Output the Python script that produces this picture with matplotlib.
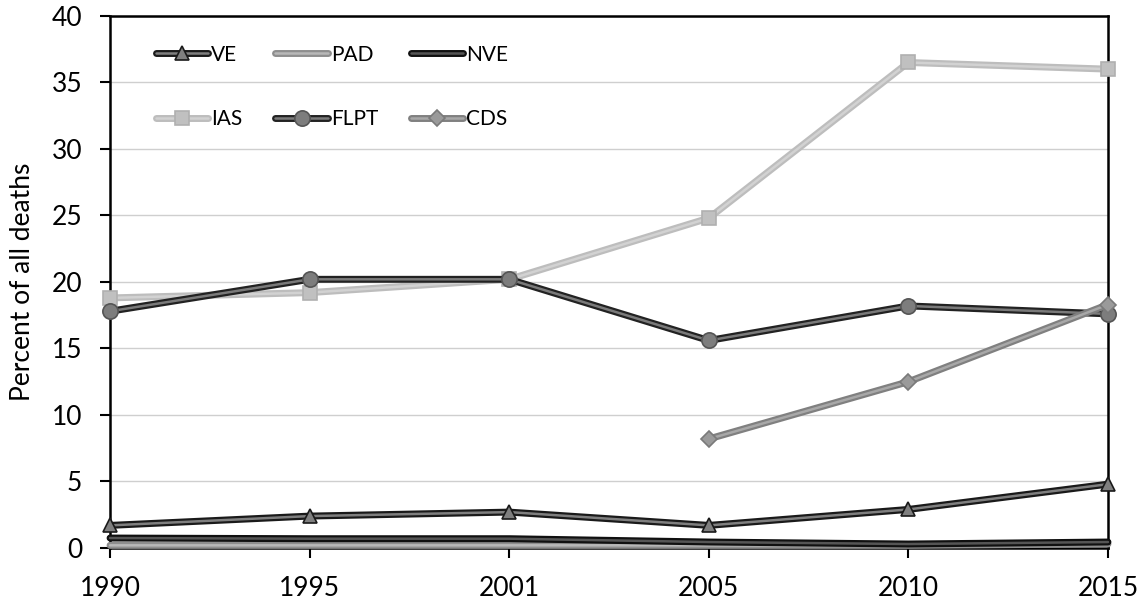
import numpy as np
import matplotlib
matplotlib.use("Agg")
import matplotlib.pyplot as plt
import matplotlib.patheffects as pe
from matplotlib.legend_handler import HandlerTuple

plt.rcParams['font.family'] = ['Lato', 'DejaVu Sans']

years = ["1990", "1995", "2001", "2005", "2010", "2015"]
VE = [1.7, 2.4, 2.7, 1.7, 2.9, 4.8]
PAD = [0.2, 0.2, 0.2, 0.2, 0.2, 0.3]
NVE = [0.75, 0.7, 0.7, 0.45, 0.3, 0.45]
IAS = [18.8, 19.2, 20.2, 24.8, 36.5, 36.0]
FLPT = [17.8, 20.2, 20.2, 15.6, 18.2, 17.6]
CDS = [np.nan, np.nan, np.nan, 8.2, 12.5, 18.3]

series = [
    ("VE", VE, "#1a1a1a", "#7f7f7f", "^", "#7f7f7f", "#1a1a1a", 10),
    ("PAD", PAD, "#8e8e8e", "#b8b8b8", None, None, None, 0),
    ("NVE", NVE, "#101010", "#555555", None, None, None, 0),
    ("IAS", IAS, "#bdbdbd", "#d2d2d2", "s", "#c0c0c0", "#b0b0b0", 10),
    ("FLPT", FLPT, "#222222", "#7a7a7a", "o", "#7d7d7d", "#555555", 11),
    ("CDS", CDS, "#808080", "#a8a8a8", "D", "#9a9a9a", "#7a7a7a", 8),
]

fig = plt.figure(figsize=(11.44, 6.06), dpi=100)
ax = fig.add_axes([0.0962, 0.0957, 0.8723, 0.878])
x = np.arange(len(years))

handles = {}
for i, (name, vals, outer, inner, mk, mfc, mec, ms) in enumerate(series):
    ln, = ax.plot(x, vals, color=inner, lw=1.8, solid_capstyle='round',
                  path_effects=[pe.Stroke(linewidth=5.0, foreground=outer, capstyle='round'), pe.Normal()],
                  zorder=3 + i, clip_on=False)
    h = ln
    if mk is not None:
        m, = ax.plot(x, vals, ls='none', marker=mk, ms=ms, mfc=mfc, mec=mec, mew=1.2,
                     zorder=3 + i + 0.5, clip_on=False)
        h = (ln, m)
    handles[name] = h

ax.set_xlim(0, 5)
ax.set_ylim(0, 40)
ax.set_xticks(x)
ax.set_xticklabels(years)
ax.set_yticks(np.arange(0, 41, 5))
ax.yaxis.grid(True, color="#cfcfcf", lw=1.0)
ax.set_axisbelow(True)
for s in ax.spines.values():
    s.set_color("black")
    s.set_linewidth(1.8)
ax.tick_params(axis='both', direction='out', length=7, width=1.5, labelsize=19, pad=13, colors='black')
ax.set_ylabel("Percent of all deaths", fontsize=19, labelpad=12)

# legend filled column-wise: rows are VE PAD NVE / IAS FLPT CDS
order = ["VE", "IAS", "PAD", "FLPT", "NVE", "CDS"]
ax.legend([handles[k] for k in order], order, handler_map={tuple: HandlerTuple(ndivide=1)},
          loc='upper left', bbox_to_anchor=(139 / 1144, 1 - 28 / 606), bbox_transform=fig.transFigure,
          ncol=3, frameon=False, fontsize=15, handlelength=2.5, handletextpad=0.15,
          columnspacing=1.6, labelspacing=2.15, borderpad=0.3)

fig.savefig("out.png", dpi=100)
